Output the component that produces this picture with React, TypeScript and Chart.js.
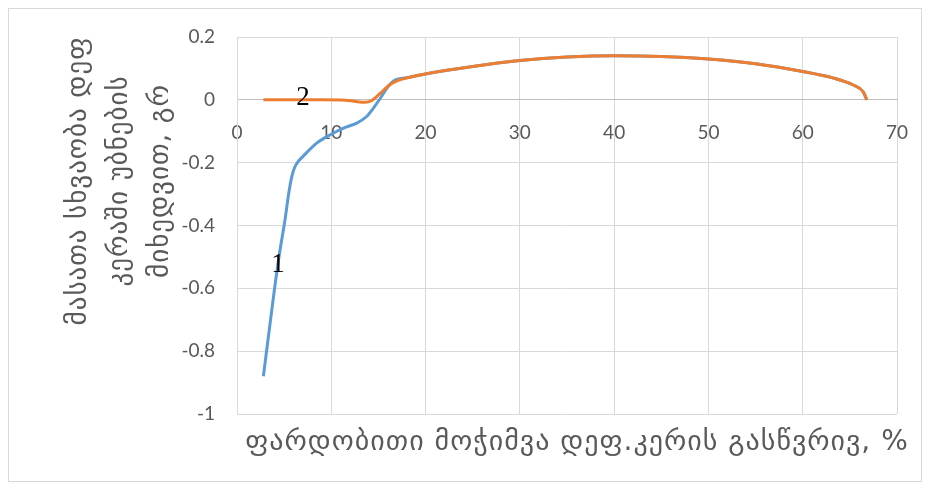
import { useEffect, useRef } from "react";
import { Chart, registerables } from "chart.js";

Chart.register(...registerables);

const curve1X = [2.8, 3.6, 4.4, 5.1, 5.5, 5.8, 6.1, 6.5, 7.0, 8.45, 9.9, 11.3, 12.7, 13.75, 14.45, 15.2, 15.9, 16.6, 17.4, 18.3, 20.1, 25, 30, 35, 40, 45, 50, 55, 59.7, 63.2, 65.3, 66.4, 66.8];
const curve1Y = [-0.88, -0.69, -0.51, -0.38, -0.295, -0.246, -0.216, -0.196, -0.18, -0.138, -0.111, -0.09, -0.074, -0.053, -0.027, 0.005, 0.037, 0.06, 0.068, 0.072, 0.083, 0.106, 0.125, 0.136, 0.14, 0.138, 0.13, 0.115, 0.092, 0.07, 0.048, 0.026, 0];

const curve2X = [2.8, 6, 9, 11.5, 12.8, 13.6, 14.3, 15.2, 16.2, 17.1, 18.3, 20.1, 25, 30, 35, 40, 45, 50, 55, 59.7, 63.2, 65.3, 66.4, 66.8];
const curve2Y = [0, 0, 0, -0.001, -0.006, -0.008, -0.002, 0.021, 0.048, 0.062, 0.072, 0.083, 0.106, 0.125, 0.136, 0.14, 0.138, 0.13, 0.115, 0.092, 0.07, 0.048, 0.026, 0];

const xTicks = [0, 10, 20, 30, 40, 50, 60, 70];
const yTicks = [-1, -0.8, -0.6, -0.4, -0.2, 0, 0.2];

const yTitleLines = ["მასათა სხვაობა დეფ", "კერაში უბნების", "მიხედვით, გრ"];
const xTitle = "ფარდობითი მოჭიმვა დეფ.კერის გასწვრივ, %";

const curveLabelText = ["1", "2"];
const curveLabelX = [4.35, 7.0];
const curveLabelY = [-0.525, 0.006];

const textPlugin = {
  id: "textPlugin",
  afterDraw(chart: any) {
    const ctx = chart.ctx as CanvasRenderingContext2D;
    const xs = chart.scales.x;
    const ys = chart.scales.y;
    ctx.save();
    // curve labels
    ctx.fillStyle = "#000000";
    ctx.font = "27px 'Liberation Serif'";
    ctx.textAlign = "center";
    ctx.textBaseline = "middle";
    curveLabelText.forEach((t, i) => {
      ctx.fillText(t, xs.getPixelForValue(curveLabelX[i]), ys.getPixelForValue(curveLabelY[i]));
    });
    // x title
    ctx.fillStyle = "#595959";
    ctx.font = "28px 'DejaVu Sans'";
    (ctx as any).letterSpacing = "1px";
    ctx.fillText(xTitle, 568, 434);
    // y title
    ctx.font = "27px 'DejaVu Sans'";
    const centers = [70, 111, 152];
    yTitleLines.forEach((t, i) => {
      ctx.save();
      ctx.translate(centers[i], 172);
      ctx.rotate(-Math.PI / 2);
      ctx.fillText(t, 0, 0);
      ctx.restore();
    });
    ctx.restore();
  },
};

const zeroPad = (s: any) => {
  s.paddingTop = 0;
  s.paddingBottom = 0;
  s.paddingLeft = 0;
  s.paddingRight = 0;
};

export default function App() {
  const ref = useRef<HTMLCanvasElement | null>(null);
  useEffect(() => {
    if (!ref.current) return;
    const chart = new Chart(ref.current, {
      type: "scatter",
      data: {
        datasets: [
          {
            label: "2",
            data: curve2X.map((x, i) => ({ x, y: curve2Y[i] })),
            showLine: true,
            borderColor: "#ed7d31",
            backgroundColor: "#ed7d31",
            borderWidth: 3,
            pointRadius: 0,
            cubicInterpolationMode: "monotone",
            order: 0,
          },
          {
            label: "1",
            data: curve1X.map((x, i) => ({ x, y: curve1Y[i] })),
            showLine: true,
            borderColor: "#5b9bd5",
            backgroundColor: "#5b9bd5",
            borderWidth: 3,
            pointRadius: 0,
            cubicInterpolationMode: "monotone",
            order: 1,
          },
        ],
      },
      options: {
        animation: false,
        responsive: true,
        maintainAspectRatio: false,
        layout: { padding: { top: 28, right: 24, bottom: 67, left: 0 } },
        plugins: { legend: { display: false }, tooltip: { enabled: false }, title: { display: false } },
        scales: {
          x: {
            type: "linear",
            position: { y: 0 } as any,
            min: 0,
            max: 70,
            afterBuildTicks: (s: any) => {
              s.ticks = xTicks.map((v) => ({ value: v }));
            },
            afterFit: zeroPad,
            grid: { color: "#d9d9d9", lineWidth: 1, drawTicks: false },
            border: { display: true, color: "#bfbfbf", width: 1 },
            ticks: {
              padding: 22,
              color: "#595959",
              font: { family: "Lato", size: 19 },
              callback: (v: any) => String(v),
            },
          },
          y: {
            type: "linear",
            min: -1,
            max: 0.2,
            afterBuildTicks: (s: any) => {
              s.ticks = yTicks.map((v) => ({ value: v }));
            },
            afterFit: (s: any) => {
              s.width = 228;
              zeroPad(s);
            },
            grid: { color: "#d9d9d9", lineWidth: 1, drawTicks: false },
            border: { display: true, color: "#d9d9d9", width: 1 },
            ticks: {
              padding: 22,
              color: "#595959",
              font: { family: "Lato", size: 19 },
              callback: (v: any) => String(Number(Number(v).toFixed(1))),
            },
          },
        },
      },
      plugins: [textPlugin],
    });
    return () => chart.destroy();
  }, []);
  return (
    <div style={{ width: 912, height: 472, border: "1px solid #d9d9d9", position: "relative", background: "#fff" }}>
      <canvas ref={ref} />
    </div>
  );
}
